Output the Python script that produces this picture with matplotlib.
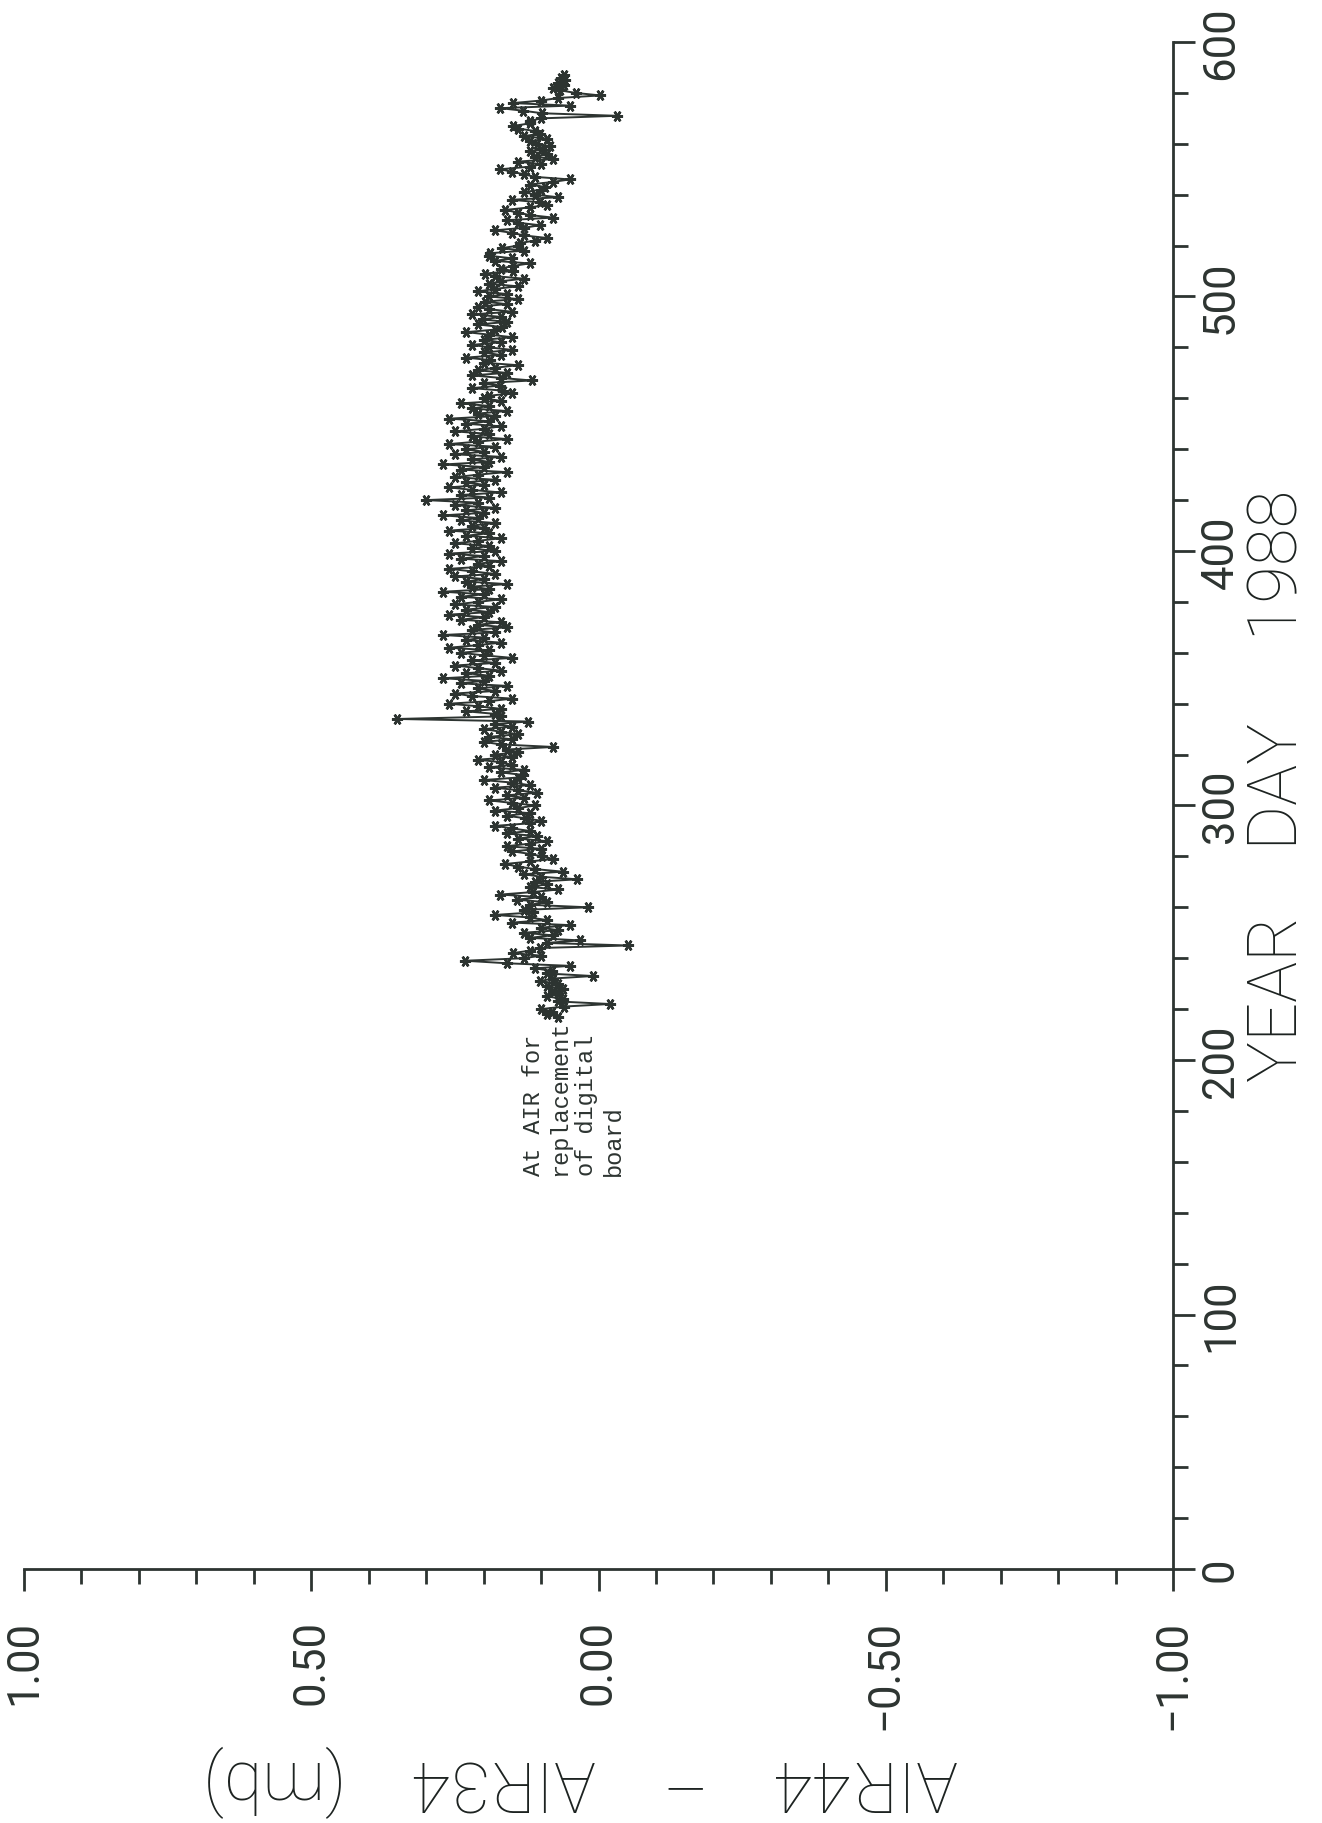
import matplotlib
matplotlib.use("Agg")
import matplotlib.pyplot as plt
from matplotlib.ticker import FixedLocator, MultipleLocator

# ---- data ----
days = list(range(217, 588))
diff = [
    # 217-335
    0.07, 0.09, 0.081, 0.10, 0.06, -0.020, 0.07, 0.062, 0.09, 0.07,
    0.08, 0.062, 0.09, 0.07, 0.102, 0.08, 0.010, 0.09, 0.081, 0.11,
    0.050, 0.159, 0.232, 0.13, 0.10, 0.149, 0.119, 0.102, -0.051, 0.09,
    0.032, 0.12, 0.08, 0.13, 0.070, 0.10, 0.050, 0.15, 0.09, 0.12,
    0.18, 0.114, 0.13, 0.018, 0.12, 0.09, 0.142, 0.10, 0.171, 0.114,
    0.070, 0.12, 0.09, 0.11, 0.037, 0.10, 0.13, 0.062, 0.11, 0.14,
    0.163, 0.12, 0.079, 0.098, 0.12, 0.15, 0.10, 0.16, 0.12, 0.09,
    0.14, 0.107, 0.16, 0.12, 0.15, 0.18, 0.12, 0.10, 0.128, 0.16,
    0.12, 0.18, 0.14, 0.11, 0.15, 0.19, 0.13, 0.16, 0.107, 0.14,
    0.18, 0.12, 0.15, 0.20, 0.14, 0.131, 0.17, 0.13, 0.19, 0.15,
    0.17, 0.21, 0.15, 0.18, 0.14, 0.159, 0.079, 0.17, 0.20, 0.15,
    0.19, 0.14, 0.17, 0.20, 0.15, 0.18, 0.123, 0.35, 0.17,
    # 336-460
    0.18, 0.23, 0.17, 0.21, 0.26, 0.19, 0.15, 0.22, 0.25, 0.18,
    0.21, 0.16, 0.24, 0.20, 0.27, 0.19, 0.23, 0.17, 0.21, 0.25,
    0.18, 0.22, 0.15, 0.20, 0.24, 0.19, 0.26, 0.21, 0.17, 0.23,
    0.20, 0.27, 0.18, 0.22, 0.16, 0.21, 0.17, 0.24, 0.20, 0.26,
    0.19, 0.23, 0.18, 0.25, 0.21, 0.17, 0.24, 0.20, 0.27, 0.19,
    0.22, 0.16, 0.23, 0.20, 0.25, 0.18, 0.22, 0.26, 0.19, 0.21,
    0.17, 0.24, 0.20, 0.26, 0.18, 0.22, 0.19, 0.25, 0.21, 0.17,
    0.23, 0.19, 0.26, 0.20, 0.22, 0.18, 0.24, 0.21, 0.27, 0.20,
    0.23, 0.18, 0.25, 0.21, 0.30, 0.19, 0.24, 0.17, 0.22, 0.26,
    0.20, 0.23, 0.18, 0.25, 0.21, 0.16, 0.24, 0.20, 0.27, 0.19,
    0.22, 0.17, 0.25, 0.20, 0.23, 0.18, 0.26, 0.21, 0.16, 0.22,
    0.19, 0.25, 0.20, 0.17, 0.23, 0.19, 0.26, 0.18, 0.21, 0.16,
    0.22, 0.19, 0.24, 0.17, 0.20,
    # 461-587
    0.19, 0.15, 0.166, 0.22, 0.171, 0.20, 0.116, 0.17, 0.22, 0.16,
    0.21, 0.18, 0.14, 0.20, 0.189, 0.23, 0.17, 0.20, 0.15, 0.19,
    0.22, 0.17, 0.20, 0.15, 0.19, 0.23, 0.18, 0.168, 0.21, 0.16,
    0.201, 0.17, 0.22, 0.15, 0.19, 0.21, 0.16, 0.198, 0.14, 0.19,
    0.16, 0.21, 0.180, 0.14, 0.19, 0.17, 0.13, 0.18, 0.198, 0.149,
    0.17, 0.149, 0.12, 0.18, 0.15, 0.19, 0.189, 0.13, 0.168, 0.14,
    0.137, 0.11, 0.090, 0.13, 0.15, 0.180, 0.13, 0.102, 0.14, 0.159,
    0.079, 0.12, 0.14, 0.163, 0.12, 0.09, 0.102, 0.151, 0.070, 0.11,
    0.13, 0.10, 0.093, 0.12, 0.08, 0.050, 0.11, 0.13, 0.15, 0.171,
    0.12, 0.10, 0.140, 0.079, 0.11, 0.09, 0.12, 0.10, 0.084, 0.107,
    0.12, 0.09, 0.13, 0.102, 0.11, 0.14, 0.149, 0.12, 0.119, 0.10,
    -0.032, 0.098, 0.131, 0.171, 0.050, 0.149, 0.10, 0.07, -0.003, 0.04,
    0.067, 0.08, 0.06, 0.07, 0.058, 0.065, 0.06,
]

value_ticks = [1.0, 0.5, 0.0, -0.5, -1.0]
value_labels = ["1.00", "0.50", "0.00", "\u22120.50", "\u22121.00"]
day_ticks = [0, 100, 200, 300, 400, 500, 600]
day_labels = ["0", "100", "200", "300", "400", "500", "600"]
day_title = "YEAR    DAY     1988"
value_title = "AIR44    \u2013    AIR34    (mb)"
note = "At AIR for\nreplacement\nof digital\nboard"

ink = "#2d3431"
title_ink = "#1c2220"
W, H = 1322, 1824
plt.rcParams["font.family"] = ["Roboto", "DejaVu Sans"]
plt.rcParams["font.weight"] = "normal"

fig = plt.figure(figsize=(W / 100, H / 100), dpi=100)
fig.patch.set_facecolor("white")
ax = fig.add_axes([24 / W, 1 - 1570 / H, (1173 - 24) / W, (1570 - 43) / H])

ax.plot(diff, days, color=ink, lw=1.4, marker=(6, 2, 90), ms=8, mew=1.8,
        mec=ink, mfc=ink)

ax.set_xlim(1, -1)
ax.set_ylim(0, 600)
for s in ["top", "left"]:
    ax.spines[s].set_visible(False)
for s in ["bottom", "right"]:
    ax.spines[s].set_linewidth(2.0)
    ax.spines[s].set_color(ink)

ax.xaxis.set_major_locator(FixedLocator(value_ticks))
ax.xaxis.set_minor_locator(MultipleLocator(0.1))
ax.set_xticklabels(value_labels)
ax.yaxis.set_major_locator(FixedLocator(day_ticks))
ax.yaxis.set_minor_locator(MultipleLocator(20))
ax.set_yticklabels(day_labels)

ax.tick_params(axis="x", which="major", length=15.8, width=2.0, direction="out",
               pad=20, labelsize=31.4, labelrotation=90, colors=ink)
ax.tick_params(axis="x", which="minor", length=10.8, width=2.0, direction="out", colors=ink)
ax.tick_params(axis="y", which="both", left=False, right=True, labelleft=False,
               labelright=True, direction="out", colors=ink, width=2.0)
ax.tick_params(axis="y", which="major", length=15.8, pad=3.6, labelsize=31.4, labelrotation=90)
ax.tick_params(axis="y", which="minor", length=10.8)
for lbl in ax.get_yticklabels():
    lbl.set_va("center")

ax.text(0.133, 155, note, rotation=90, rotation_mode="anchor", ha="left", va="top",
        family=["Liberation Mono", "DejaVu Sans Mono"], fontweight="normal",
        fontsize=17, linespacing=1.2, color=ink)

fig.text(1298 / W, 1 - 786 / H, day_title, rotation=90, rotation_mode="anchor",
         ha="center", va="baseline", fontsize=49.5, fontweight="light", color=title_ink)
fig.text(580 / W, 1 - 1760 / H, value_title, rotation=180, rotation_mode="anchor",
         ha="center", va="baseline", fontsize=50.5, fontweight="light", color=title_ink)

fig.savefig("out.png", dpi=100, facecolor="white")
